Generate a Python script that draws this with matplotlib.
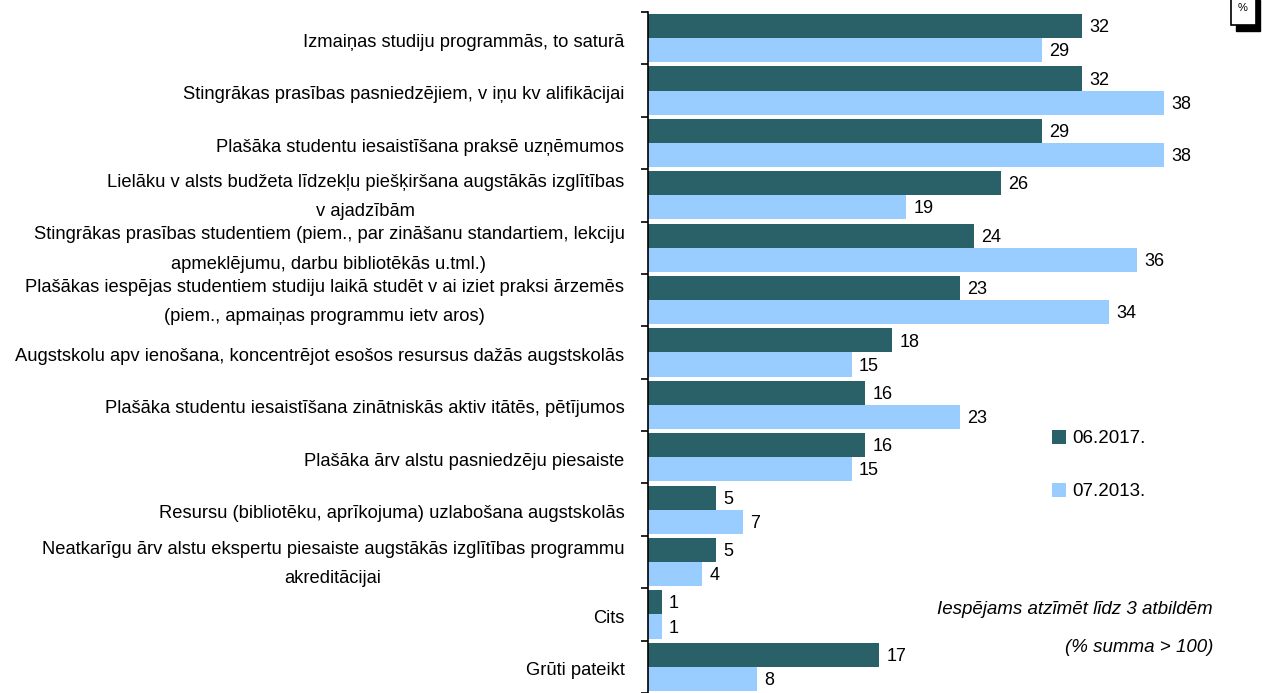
import numpy as np
import matplotlib
matplotlib.use('Agg')
import matplotlib.pyplot as plt
from matplotlib.patches import Rectangle

plt.rcParams['font.family'] = ['Liberation Sans', 'DejaVu Sans']

# answers, top to bottom
categories = [
    'Izmaiņas studiju programmās, to saturā',
    'Stingrākas prasības pasniedzējiem, v iņu kv alifikācijai',
    'Plašāka studentu iesaistīšana praksē uzņēmumos',
    'Lielāku v alsts budžeta līdzekļu piešķiršana augstākās izglītības\nv ajadzībām',
    'Stingrākas prasības studentiem (piem., par zināšanu standartiem, lekciju\napmeklējumu, darbu bibliotēkās u.tml.)',
    'Plašākas iespējas studentiem studiju laikā studēt v ai iziet praksi ārzemēs\n(piem., apmaiņas programmu ietv aros)',
    'Augstskolu apv ienošana, koncentrējot esošos resursus dažās augstskolās',
    'Plašāka studentu iesaistīšana zinātniskās aktiv itātēs, pētījumos',
    'Plašāka ārv alstu pasniedzēju piesaiste',
    'Resursu (bibliotēku, aprīkojuma) uzlabošana augstskolās',
    'Neatkarīgu ārv alstu ekspertu piesaiste augstākās izglītības programmu\nakreditācijai',
    'Cits',
    'Grūti pateikt',
]
vals_2017 = [32, 32, 29, 26, 24, 23, 18, 16, 16, 5, 5, 1, 17]
vals_2013 = [29, 38, 38, 19, 36, 34, 15, 23, 15, 7, 4, 1, 8]
series_names = ['06.2017.', '07.2013.']

c_dark = '#2A6168'
c_light = '#99CCFF'

W, H = 1262, 693
fig = plt.figure(figsize=(W / 100, H / 100), dpi=100)
ax = fig.add_axes([648 / W, 0, 612 / W, 681 / H])

y = np.arange(len(categories))
h = 0.46
ax.barh(y - h / 2, vals_2017, height=h, color=c_dark, label=series_names[0])
ax.barh(y + h / 2, vals_2013, height=h, color=c_light, label=series_names[1])

for i in range(len(categories)):
    ax.text(vals_2017[i] + 0.55, y[i] - h / 2 + 0.03, str(vals_2017[i]), va='center', ha='left', fontsize=13)
    ax.text(vals_2013[i] + 0.55, y[i] + h / 2 + 0.03, str(vals_2013[i]), va='center', ha='left', fontsize=13)

ax.set_xlim(0, 45.1)
ax.set_ylim(len(categories) - 0.5, -0.5)

for s in ['top', 'right', 'bottom']:
    ax.spines[s].set_visible(False)
ax.spines['left'].set_linewidth(1.2)
ax.set_xticks([])

# two-line labels sit a bit higher
label_pos = [yy + (-0.12 if '\n' in c else 0.04) for yy, c in zip(y, categories)]
ax.set_yticks(label_pos)
ax.set_yticklabels(categories, fontsize=13.25, multialignment='center')
for lbl in ax.get_yticklabels():
    lbl.set_linespacing(1.95)
ax.tick_params(axis='y', which='major', length=0, pad=17)
ax.set_yticks(np.arange(-0.5, len(categories), 1.0), minor=True)
ax.tick_params(axis='y', which='minor', length=5, width=1.2, direction='out')

leg = ax.legend(loc='upper left', bbox_to_anchor=(1035 / W, 1 - 413 / H), bbox_transform=fig.transFigure,
                frameon=False, fontsize=13.5, handlelength=0.75, handleheight=0.75,
                labelspacing=1.9, handletextpad=0.35)

fig.text(1213 / W, 1 - 609 / H, 'Iespējams atzīmēt līdz 3 atbildēm', ha='right', va='center',
         fontsize=13.5, style='italic')
fig.text(1213 / W, 1 - 647 / H, '(% summa > 100)', ha='right', va='center',
         fontsize=13.5, style='italic')

# small "%" box in the corner
fig.patches.append(Rectangle((1236 / W, 1 - 31 / H), 24 / W, 31 / H, transform=fig.transFigure,
                             facecolor='black', edgecolor='black'))
fig.patches.append(Rectangle((1231 / W, 1 - 25 / H), 25 / W, 30 / H, transform=fig.transFigure,
                             facecolor='white', edgecolor='black', linewidth=1.2))
fig.text(1243 / W, 1 - 8 / H, '%', ha='center', va='center', fontsize=8)

fig.savefig('out.png', dpi=100)
